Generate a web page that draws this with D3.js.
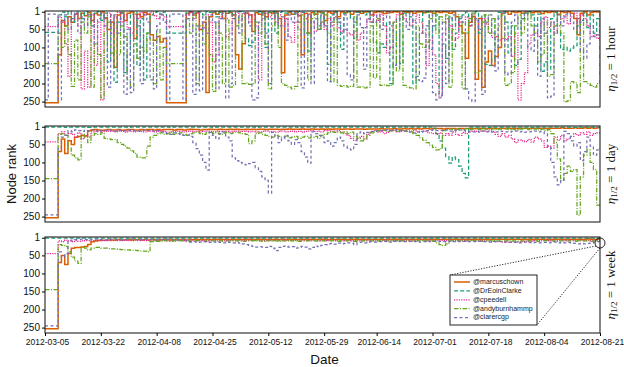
<!DOCTYPE html>
<html>
<head>
<meta charset="utf-8">
<script src="https://cdn.jsdelivr.net/npm/d3@7"></script>
<style>
  body { margin: 0; background: #fff; }
  svg { display: block; font-family: 'Liberation Sans', Arial, sans-serif; }
</style>
</head>
<body>
<svg id="chart" width="624" height="367"></svg>
<script>
// one value per day, 2012-03-05 .. 2012-08-21
const startDate = '2012-03-05'
const endDate = '2012-08-21'
const xTickLabels = ['2012-03-05', '2012-03-22', '2012-04-08', '2012-04-25', '2012-05-12', '2012-05-29',
  '2012-06-14', '2012-07-01', '2012-07-18', '2012-08-04', '2012-08-21']
const rankTicks = [1, 50, 100, 150, 200, 250]
const users = ['@marcuschown', '@DrEoinClarke', '@cpeedell', '@andyburnhammp', '@clarercgp']
const halfLives = ['1 hour', '1 day', '1 week']

// eta = 1 hour
const hourMarcus = [
  253,253,253,253,120,25,40,15,30,8, 20,5,12,3,25,6,10,2,18,50,
  30,155,10,3,25,5,2,75,8,15, 3,8,65,80,70,85,75,253,253,253,
  253,253,253,5,2,10,3,50,30,225, 15,3,8,2,20,5,3,10,120,160,
  90,5,10,56,4,8,2,15,3,6, 2,20,170,10,3,8,2,12,120,5,
  60,3,8,2,3,25,2,5,1,15, 2,4,1,8,2,1,5,2,1,10,
  3,1,2,6,1,3,1,2,8,1, 3,1,5,2,1,4,1,2,6,1,
  3,1,2,5,2,15,40,60,130,30, 15,188,20,210,140,110,150,125,100,5,
  2,8,1,3,1,5,2,1,4,1, 2,6,1,3,1,2,8,1,3,1,
  5,20,65,5,2,10,3,1,2,1]
const hourEoin = [
  58,58,58,58,10,2,15,1,30,5, 2,20,1,8,40,3,1,25,5,140,
  10,197,30,5,170,120,8,2,150,20, 190,60,10,3,1,8,2,60,60,60,
  60,60,60,3,1,5,1,2,10,1, 3,1,15,2,1,4,1,20,2,1,
  5,75,95,85,3,1,5,100,2,1, 60,3,1,5,1,2,8,1,3,60,
  110,10,2,50,5,40,147,10,2,30, 105,5,1,20,75,3,1,10,2,30,
  85,115,90,100,30,200,150,20,145,5, 1,15,200,180,60,5,2,105,40,10,
  230,90,130,15,105,60,20,10,2,40, 5,1,60,10,147,150,130,20,3,1,
  30,115,40,150,133,20,5,1,10,60, 8,166,140,160,20,3,60,105,100,110,
  102,95,40,25,5,45,10,60,20,5]
const hourPeedell = [
  42,42,42,42,15,30,90,180,20,5, 40,215,110,210,10,150,30,245,20,5,
  60,15,3,30,10,45,60,8,20,3, 10,5,2,12,20,8,15,42,42,42,
  42,42,42,10,3,20,5,50,45,10, 30,140,120,15,5,70,60,10,2,25,
  8,3,30,10,40,190,20,5,15,3, 30,10,40,20,70,85,30,10,3,20,
  8,30,55,50,30,50,20,40,15,45, 55,50,60,65,55,80,60,45,20,30,
  10,25,8,40,115,100,30,10,5,20, 30,40,25,10,30,60,150,80,120,200,
  235,60,20,40,80,75,30,30,15,40, 10,25,50,20,35,60,72,70,80,75,
  78,70,125,60,245,200,170,90,65,60, 70,30,15,45,30,60,40,20,10,35,
  15,5,30,10,20,40,70,65,75,50]
const hourBurnham = [
  145,145,145,145,60,100,40,120,208,80, 190,30,60,15,210,90,120,240,60,30,
  115,110,120,40,70,190,210,90,130,100, 110,60,80,200,50,190,100,145,145,145,
  145,145,145,20,60,10,200,40,90,15, 120,222,30,60,200,20,210,205,40,10,
  200,198,202,200,30,60,10,90,215,40, 5,100,200,205,210,215,208,30,10,60,
  190,20,5,50,30,10,60,195,20,205, 208,206,210,208,15,210,209,212,210,40,
  185,20,205,204,206,205,30,165,10,205, 210,212,215,40,90,100,85,20,5,60,
  15,30,10,210,50,10,30,215,60,20, 5,170,165,30,10,60,20,100,40,10,
  205,200,170,40,10,60,20,5,40,80, 140,120,30,180,175,40,10,60,250,248,
  195,198,225,30,195,200,205,210,200,30]
const hourClare = [
  245,8,8,8,245,30,10,50,20,5, 60,15,40,10,25,90,20,5,40,210,
  30,10,60,20,230,50,225,15,40,200, 10,30,190,215,40,10,30,245,8,8,
  8,8,245,20,5,230,40,220,15,60, 10,30,215,20,5,240,200,30,10,60,
  20,5,40,245,240,30,10,60,200,20, 5,40,15,80,10,30,5,50,212,30,
  10,200,20,40,10,40,195,30,5,20, 60,10,175,190,30,10,45,160,20,5,
  30,10,50,20,5,40,150,147,20,10, 50,5,30,190,195,185,40,10,225,245,
  240,30,200,20,10,40,15,30,215,245, 250,20,50,230,30,10,60,165,20,5,
  175,170,30,10,50,20,5,100,110,40, 180,20,60,240,235,30,10,40,15,5,
  30,50,20,110,130,90,40,70,65,20]

// eta = 1 day
const dayMarcus = [
  253,253,253,253,70,35,75,40,50,30, 28,25,27,12,10,9,10,11,10,9,
  10,10,9,11,10,9,9,10,10,9, 10,9,9,10,9,10,9,9,9,10,
  9,9,10,9,8,9,9,10,9,9, 8,9,9,8,9,9,8,9,8,9,
  9,8,9,8,9,8,8,9,8,8, 8,9,8,8,7,8,8,8,7,8,
  8,7,8,8,7,8,7,8,7,7, 8,7,7,8,7,7,7,8,7,7,
  7,7,6,7,7,7,6,7,7,6, 7,6,7,6,7,6,6,7,6,6,
  6,7,6,6,6,7,6,6,6,6, 6,6,5,6,6,6,5,6,6,5,
  6,5,6,5,6,5,5,6,5,5, 5,5,6,5,5,5,5,4,5,5,
  5,4,5,5,4,5,4,5,4,4]
const dayEoin = [
  2,2,2,2,2,2,3,2,2,2, 2,2,2,3,2,2,2,2,2,2,
  2,2,2,2,2,3,2,2,2,2, 2,2,2,2,2,2,2,2,3,2,
  2,2,2,2,2,2,2,2,2,2, 2,3,2,2,2,2,2,2,2,2,
  2,2,2,2,3,2,2,2,2,2, 2,2,2,2,2,2,2,3,2,2,
  2,2,2,2,2,2,2,2,2,2, 3,2,2,2,2,2,2,2,2,2,
  2,2,2,3,2,2,2,2,2,2, 2,2,2,2,2,2,3,2,5,20,
  40,60,84,102,85,92,110,130,143,2, 2,2,2,2,2,3,2,2,2,2,
  2,2,2,2,2,2,2,2,3,2, 2,2,2,2,2,2,2,2,2,2,
  2,3,2,2,2,2,2,2,2,2]
const dayPeedell = [
  43,43,43,43,20,15,25,20,22,30, 18,35,25,30,15,14,13,15,14,13,
  14,15,13,14,16,13,14,15,13,14, 15,14,13,15,14,13,14,16,15,14,
  13,14,15,14,13,15,14,16,14,13, 14,15,13,14,15,14,16,14,13,15,
  14,13,15,14,16,15,14,13,15,14, 16,14,13,15,14,13,15,14,16,14,
  13,12,14,13,15,12,11,14,13,12, 15,20,25,33,39,30,28,35,22,15,
  12,16,14,20,17,13,11,15,14,12, 14,13,12,15,14,13,16,18,20,22,
  18,25,20,24,15,22,25,17,20,14, 13,14,13,12,14,13,14,22,28,20,
  30,25,35,45,38,40,42,36,44,30, 35,40,58,55,60,30,38,25,40,35,
  28,20,25,18,22,15,25,20,18,22]
const dayBurnham = [
  145,145,145,145,22,20,25,60,80,87, 93,22,30,45,25,20,22,18,33,35,
  37,37,45,50,55,60,68,75,85,87, 87,55,30,25,20,18,22,20,17,22,
  20,18,22,25,20,18,16,20,22,18, 17,20,18,22,19,17,20,18,16,18,
  20,22,48,40,20,18,22,25,28,30, 25,28,30,27,32,30,28,33,30,28,
  32,30,28,33,25,22,18,15,17,16, 18,15,20,16,28,33,40,35,25,18,
  15,12,13,11,14,12,10,13,11,12, 13,15,20,25,32,38,45,52,58,65,
  62,12,10,8,9,7,10,8,6,9, 8,7,9,6,8,10,7,9,8,6,
  7,9,8,10,7,8,6,9,7,8, 10,8,12,9,20,45,90,150,130,110,
  125,120,246,140,80,65,100,120,218,218]
const dayClare = [
  245,245,245,245,60,30,25,12,15,10, 12,14,11,13,10,12,15,12,11,10,
  12,13,11,10,12,11,10,12,13,11, 10,12,11,13,12,15,18,20,22,18,
  20,22,25,24,28,45,62,80,100,121, 17,25,35,20,15,30,40,87,95,100,
  105,107,103,100,115,125,140,150,185,17, 30,45,35,25,40,50,37,45,70,85,
  102,15,20,25,30,45,40,55,45,30, 40,55,60,65,50,18,15,20,17,14,
  12,13,11,12,10,11,12,10,11,13, 14,16,18,15,17,14,12,11,10,12,
  11,12,10,13,11,12,10,11,14,16, 15,14,16,13,15,14,16,15,13,14,
  15,16,14,13,15,14,16,15,14,13, 15,14,20,58,100,140,162,150,14,20,
  40,55,45,95,70,30,55,80,65,60]

// eta = 1 week
const weekMarcus = [
  253,253,253,253,70,50,75,45,30,28, 28,27,25,20,12,10,9,8,8,7,
  7,7,6,7,7,6,7,6,6,7, 6,7,6,6,7,6,6,6,7,6,
  6,6,6,7,6,6,6,6,6,6, 6,6,5,6,6,6,6,5,6,6,
  6,5,6,6,6,5,6,6,5,6, 6,6,5,6,6,5,6,6,6,5,
  6,5,6,6,5,6,6,5,6,6, 5,6,6,5,6,5,6,6,5,6,
  5,6,5,6,6,5,6,5,6,5, 6,5,6,5,5,6,5,6,5,5,
  6,5,5,6,5,5,6,5,5,6, 5,5,6,5,5,5,6,5,5,5,
  6,5,5,5,5,6,5,5,5,5, 5,5,5,6,5,5,5,5,5,5,
  5,5,5,5,5,4,5,5,5,5]
const weekEoin = [
  2,2,2,2,2,2,2,2,2,2, 2,2,2,2,2,2,2,2,2,2,
  2,2,2,2,2,2,2,2,2,2, 2,2,2,2,2,2,2,2,2,2,
  2,2,2,2,2,2,2,2,2,2, 2,2,2,2,2,2,2,2,2,2,
  2,2,2,2,2,2,2,2,2,2, 2,2,2,2,2,2,2,2,2,2,
  2,2,2,2,2,2,2,2,2,2, 2,2,2,2,2,2,2,2,2,2,
  2,2,2,2,2,2,2,2,2,2, 2,2,2,2,2,2,2,2,2,2,
  2,2,2,2,2,2,2,2,2,2, 2,2,2,2,2,2,2,2,2,2,
  2,2,2,2,2,2,2,2,2,2, 2,2,2,2,2,2,2,2,2,2,
  2,2,2,2,2,2,2,2,2,2]
const weekPeedell = [
  45,45,45,45,10,12,8,10,12,9, 11,10,9,9,10,9,8,9,9,8,
  9,8,9,9,8,9,9,8,9,8, 9,9,8,9,8,9,9,8,9,9,
  8,9,9,8,9,8,9,9,8,9, 9,8,9,9,8,9,8,9,9,8,
  9,9,8,9,8,9,9,8,9,9, 8,9,9,8,9,9,8,9,8,9,
  9,8,9,9,8,9,9,8,9,8, 9,9,8,9,9,8,9,9,8,9,
  8,9,9,8,9,9,8,9,9,8, 9,8,9,9,8,9,9,8,9,9,
  8,9,9,8,9,9,8,9,9,8, 9,9,8,9,9,10,11,12,12,13,
  12,13,12,12,13,12,11,12,10,9, 9,8,9,9,8,9,9,8,9,9,
  8,9,9,8,9,8,9,8,8,8]
const weekBurnham = [
  145,145,145,145,20,22,25,40,55,65, 72,27,30,35,30,28,28,30,30,31,
  32,32,33,34,35,35,36,36,37,38, 38,40,12,10,11,10,9,10,11,10,
  10,9,10,10,11,10,9,10,10,11, 10,10,9,10,11,10,10,9,10,10,
  11,10,10,9,10,10,11,10,9,10, 10,11,10,10,9,10,10,11,10,10,
  9,10,10,11,10,10,9,10,10,11, 10,9,10,10,11,10,10,9,10,10,
  11,10,9,10,10,11,10,10,9,10, 10,11,10,10,9,10,10,11,10,15,
  20,22,18,10,10,9,10,11,10,10, 9,10,10,11,10,10,9,10,10,11,
  10,9,10,10,11,10,10,9,10,10, 11,10,9,10,10,11,10,10,9,10,
  10,11,10,9,10,10,11,10,10,10]
const weekClare = [
  245,245,245,245,40,55,45,10,8,6, 6,5,6,7,6,5,6,6,7,6,
  5,6,6,7,6,6,5,6,7,6, 6,5,6,6,7,6,6,5,6,6,
  7,6,5,12,13,12,14,13,12,13, 14,13,12,14,15,13,14,15,14,16,
  18,20,22,25,27,26,27,28,25,30, 37,28,25,24,27,26,30,28,25,27,
  32,28,24,26,22,20,18,17,19,16, 18,17,15,16,20,14,13,15,13,12,
  13,12,12,11,12,13,11,12,11,12, 12,11,12,11,13,12,11,12,11,12,
  11,12,13,11,12,11,12,11,12,12, 12,12,11,12,12,13,12,12,11,12,
  13,14,13,14,15,14,13,14,15,14, 15,14,14,15,14,13,15,14,15,14,
  16,17,18,17,18,17,16,13,12,12]

const panels = [
  [hourMarcus, hourEoin, hourPeedell, hourBurnham, hourClare],
  [dayMarcus, dayEoin, dayPeedell, dayBurnham, dayClare],
  [weekMarcus, weekEoin, weekPeedell, weekBurnham, weekClare],
]

const styles = [
  { color: '#d95f02', dash: null, width: 1.5 },
  { color: '#1b9e77', dash: '4,2.2', width: 1.25 },
  { color: '#e7298a', dash: '1.2,1.2', width: 1.25 },
  { color: '#66a61e', dash: '4.5,1.5,1,1.5', width: 1.25 },
  { color: '#7570b3', dash: '3,2.5', width: 1.25 },
]

const left = 45
const right = 600
const panelTops = [11, 126, 237]
const panelH = 96

const parseDate = d3.utcParse('%Y-%m-%d')
const t0 = parseDate(startDate)
const dateOf = (i) => d3.utcDay.offset(t0, i)

const svg = d3.select('#chart')
const x = d3.scaleUtc().domain([t0, parseDate(endDate)]).range([left, right])

panels.forEach((series, p) => {
  const top = panelTops[p]
  const y = d3.scaleLinear().domain([-1, 265]).range([top, top + panelH])

  svg.append('clipPath').attr('id', 'clip' + p)
    .append('rect').attr('x', left).attr('y', top).attr('width', right - left).attr('height', panelH)

  const line = d3.line()
    .x((v, i) => x(dateOf(i)))
    .y((v) => y(v))
    .curve(d3.curveStepAfter)

  svg.append('g')
    .attr('clip-path', `url(#clip${p})`)
    .selectAll('path')
    .data(series)
    .join('path')
    .attr('d', line)
    .attr('fill', 'none')
    .attr('stroke', (d, i) => styles[i].color)
    .attr('stroke-width', (d, i) => styles[i].width)
    .attr('stroke-dasharray', (d, i) => styles[i].dash)

  svg.append('rect')
    .attr('x', left).attr('y', top)
    .attr('width', right - left).attr('height', panelH)
    .attr('fill', 'none')
    .attr('stroke', '#222')
    .attr('stroke-width', 1.1)

  const yAxis = svg.append('g')
    .attr('transform', `translate(${left},0)`)
    .call(d3.axisLeft(y).tickValues(rankTicks).tickSize(3).tickPadding(2))
  yAxis.select('.domain').remove()
  yAxis.selectAll('text').attr('font-size', 10).attr('fill', '#111')
    .attr('font-family', 'Liberation Sans, Arial, sans-serif')

  // half-life label on the right
  const lab = svg.append('text')
    .attr('transform', `translate(612,${top + panelH / 2}) rotate(-90)`)
    .attr('text-anchor', 'middle')
    .attr('dominant-baseline', 'middle')
    .attr('font-family', 'Liberation Serif, serif')
    .attr('font-size', 13)
    .attr('fill', '#111')
  lab.append('tspan').attr('font-style', 'italic').text('η')
  lab.append('tspan').attr('font-size', 9).attr('dy', 3).text('1/2')
  lab.append('tspan').attr('dy', -3).text(` = ${halfLives[p]}`)

  if (p === 2) {
    const xAxis = svg.append('g')
      .attr('transform', `translate(0,${top + panelH})`)
      .call(d3.axisBottom(x)
        .tickValues(xTickLabels.map(parseDate))
        .tickFormat(d3.utcFormat('%Y-%m-%d'))
        .tickSize(3)
        .tickPadding(3))
    xAxis.select('.domain').remove()
    xAxis.selectAll('text').attr('font-size', 8.5).attr('fill', '#111').attr('dx', 2)
      .attr('font-family', 'Liberation Sans, Arial, sans-serif')
  }
})

svg.append('text')
  .attr('transform', `translate(13,${panelTops[1] + panelH / 2}) rotate(-90)`)
  .attr('text-anchor', 'middle')
  .attr('dominant-baseline', 'middle')
  .attr('font-size', 13)
  .attr('fill', '#111')
  .text('Node rank')

svg.append('text')
  .attr('x', (left + right) / 2 + 2)
  .attr('y', 364)
  .attr('text-anchor', 'middle')
  .attr('font-size', 13.5)
  .attr('fill', '#111')
  .text('Date')

// zoom circle + legend
const legX = 450, legY = 275, legW = 87, legH = 50
svg.append('circle')
  .attr('cx', 600).attr('cy', 243).attr('r', 5)
  .attr('fill', 'none').attr('stroke', '#111').attr('stroke-width', 0.9)
svg.append('line')
  .attr('x1', 596).attr('y1', 246).attr('x2', legX).attr('y2', legY)
  .attr('stroke', '#111').attr('stroke-width', 0.9).attr('stroke-dasharray', '1.2,1.5')
svg.append('line')
  .attr('x1', 600).attr('y1', 248).attr('x2', legX + legW).attr('y2', legY + legH)
  .attr('stroke', '#111').attr('stroke-width', 0.9).attr('stroke-dasharray', '1.2,1.5')

const legend = svg.append('g').attr('transform', `translate(${legX},${legY})`)
legend.append('rect')
  .attr('width', legW).attr('height', legH)
  .attr('fill', '#fff').attr('stroke', '#222').attr('stroke-width', 1)

const entry = legend.selectAll('g.entry')
  .data(users)
  .join('g')
  .attr('class', 'entry')
  .attr('transform', (d, i) => `translate(0,${7 + i * 8.9})`)
entry.append('line')
  .attr('x1', 4).attr('x2', 20)
  .attr('stroke', (d, i) => styles[i].color)
  .attr('stroke-width', (d, i) => styles[i].width)
  .attr('stroke-dasharray', (d, i) => styles[i].dash)
entry.append('text')
  .attr('x', 23)
  .attr('dominant-baseline', 'middle')
  .attr('font-size', 7)
  .attr('fill', '#222')
  .text((d) => d)
</script>
</body>
</html>
